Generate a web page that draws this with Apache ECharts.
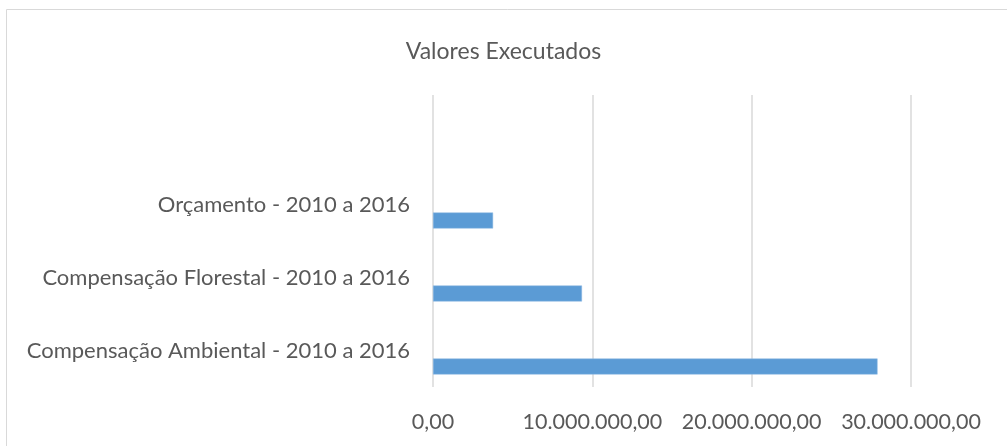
<!doctype html>
<html>
<head>
<meta charset="utf-8">
<title>Valores Executados</title>
<style>
	html,body{height: 100%; padding: 0; margin: 0; background: #fff;}
</style>
</head>
<body>
<div style="width: 1007px; height: 446px;" id="chart"></div>
<script src="https://cdn.jsdelivr.net/npm/echarts@6/dist/echarts.min.js"></script>
<script>
// categorias de baixo para cima (a de cima fica vazia, como no original)
var categorias = ['Compensação Ambiental - 2010 a 2016', 'Compensação Florestal - 2010 a 2016', 'Orçamento - 2010 a 2016', ''];
var valores = [27900000, 9350000, 3770000, null];
var vazio = [null, null, null, null];
var eixoX = {min: 0, max: 30000000, interval: 10000000};

function formatoBR(v){
	var partes = v.toFixed(2).split('.');
	partes[0] = partes[0].replace(/\B(?=(\d{3})+(?!\d))/g, '.');
	return partes[0] + ',' + partes[1];
}

var myChart = echarts.init(document.getElementById('chart'));
var fonte = 'Lato';
var option = {
	animation: false,
	textStyle: {fontFamily: fonte},
	title: {
		text: 'Valores Executados',
		left: 'center',
		top: 35,
		textStyle: {fontFamily: fonte, fontSize: 23, fontWeight: 'normal', color: '#595959'}
	},
	graphic: [{
		type: 'rect',
		shape: {x: 6.5, y: 9.5, width: 1100, height: 600},
		style: {fill: 'none', stroke: '#d9d9d9', lineWidth: 1},
		silent: true
	}],
	grid: {left: 433, right: 96, top: 95, bottom: 59},
	xAxis: {
		type: 'value',
		min: eixoX.min,
		max: eixoX.max,
		interval: eixoX.interval,
		axisLine: {show: false},
		axisTick: {show: false},
		splitLine: {show: true, lineStyle: {color: '#d9d9d9', width: 1.5}},
		axisLabel: {
			formatter: formatoBR,
			fontFamily: fonte,
			fontSize: 21.5,
			color: '#595959',
			margin: 24
		}
	},
	yAxis: {
		type: 'category',
		data: categorias,
		axisLine: {show: false},
		axisTick: {show: false},
		axisLabel: {fontFamily: fonte, fontSize: 22, color: '#595959', margin: 23}
	},
	series: [
		{
			name: 'vazio',
			type: 'bar',
			data: vazio,
			barWidth: 16,
			barGap: '100%'
		},
		{
			name: 'Valores Executados',
			type: 'bar',
			data: valores,
			barWidth: 16,
			barGap: '100%',
			itemStyle: {color: '#5b9bd5', borderColor: '#8fb9e3', borderWidth: 0.5}
		}
	]
};
myChart.setOption(option);
</script>
</body>
</html>
